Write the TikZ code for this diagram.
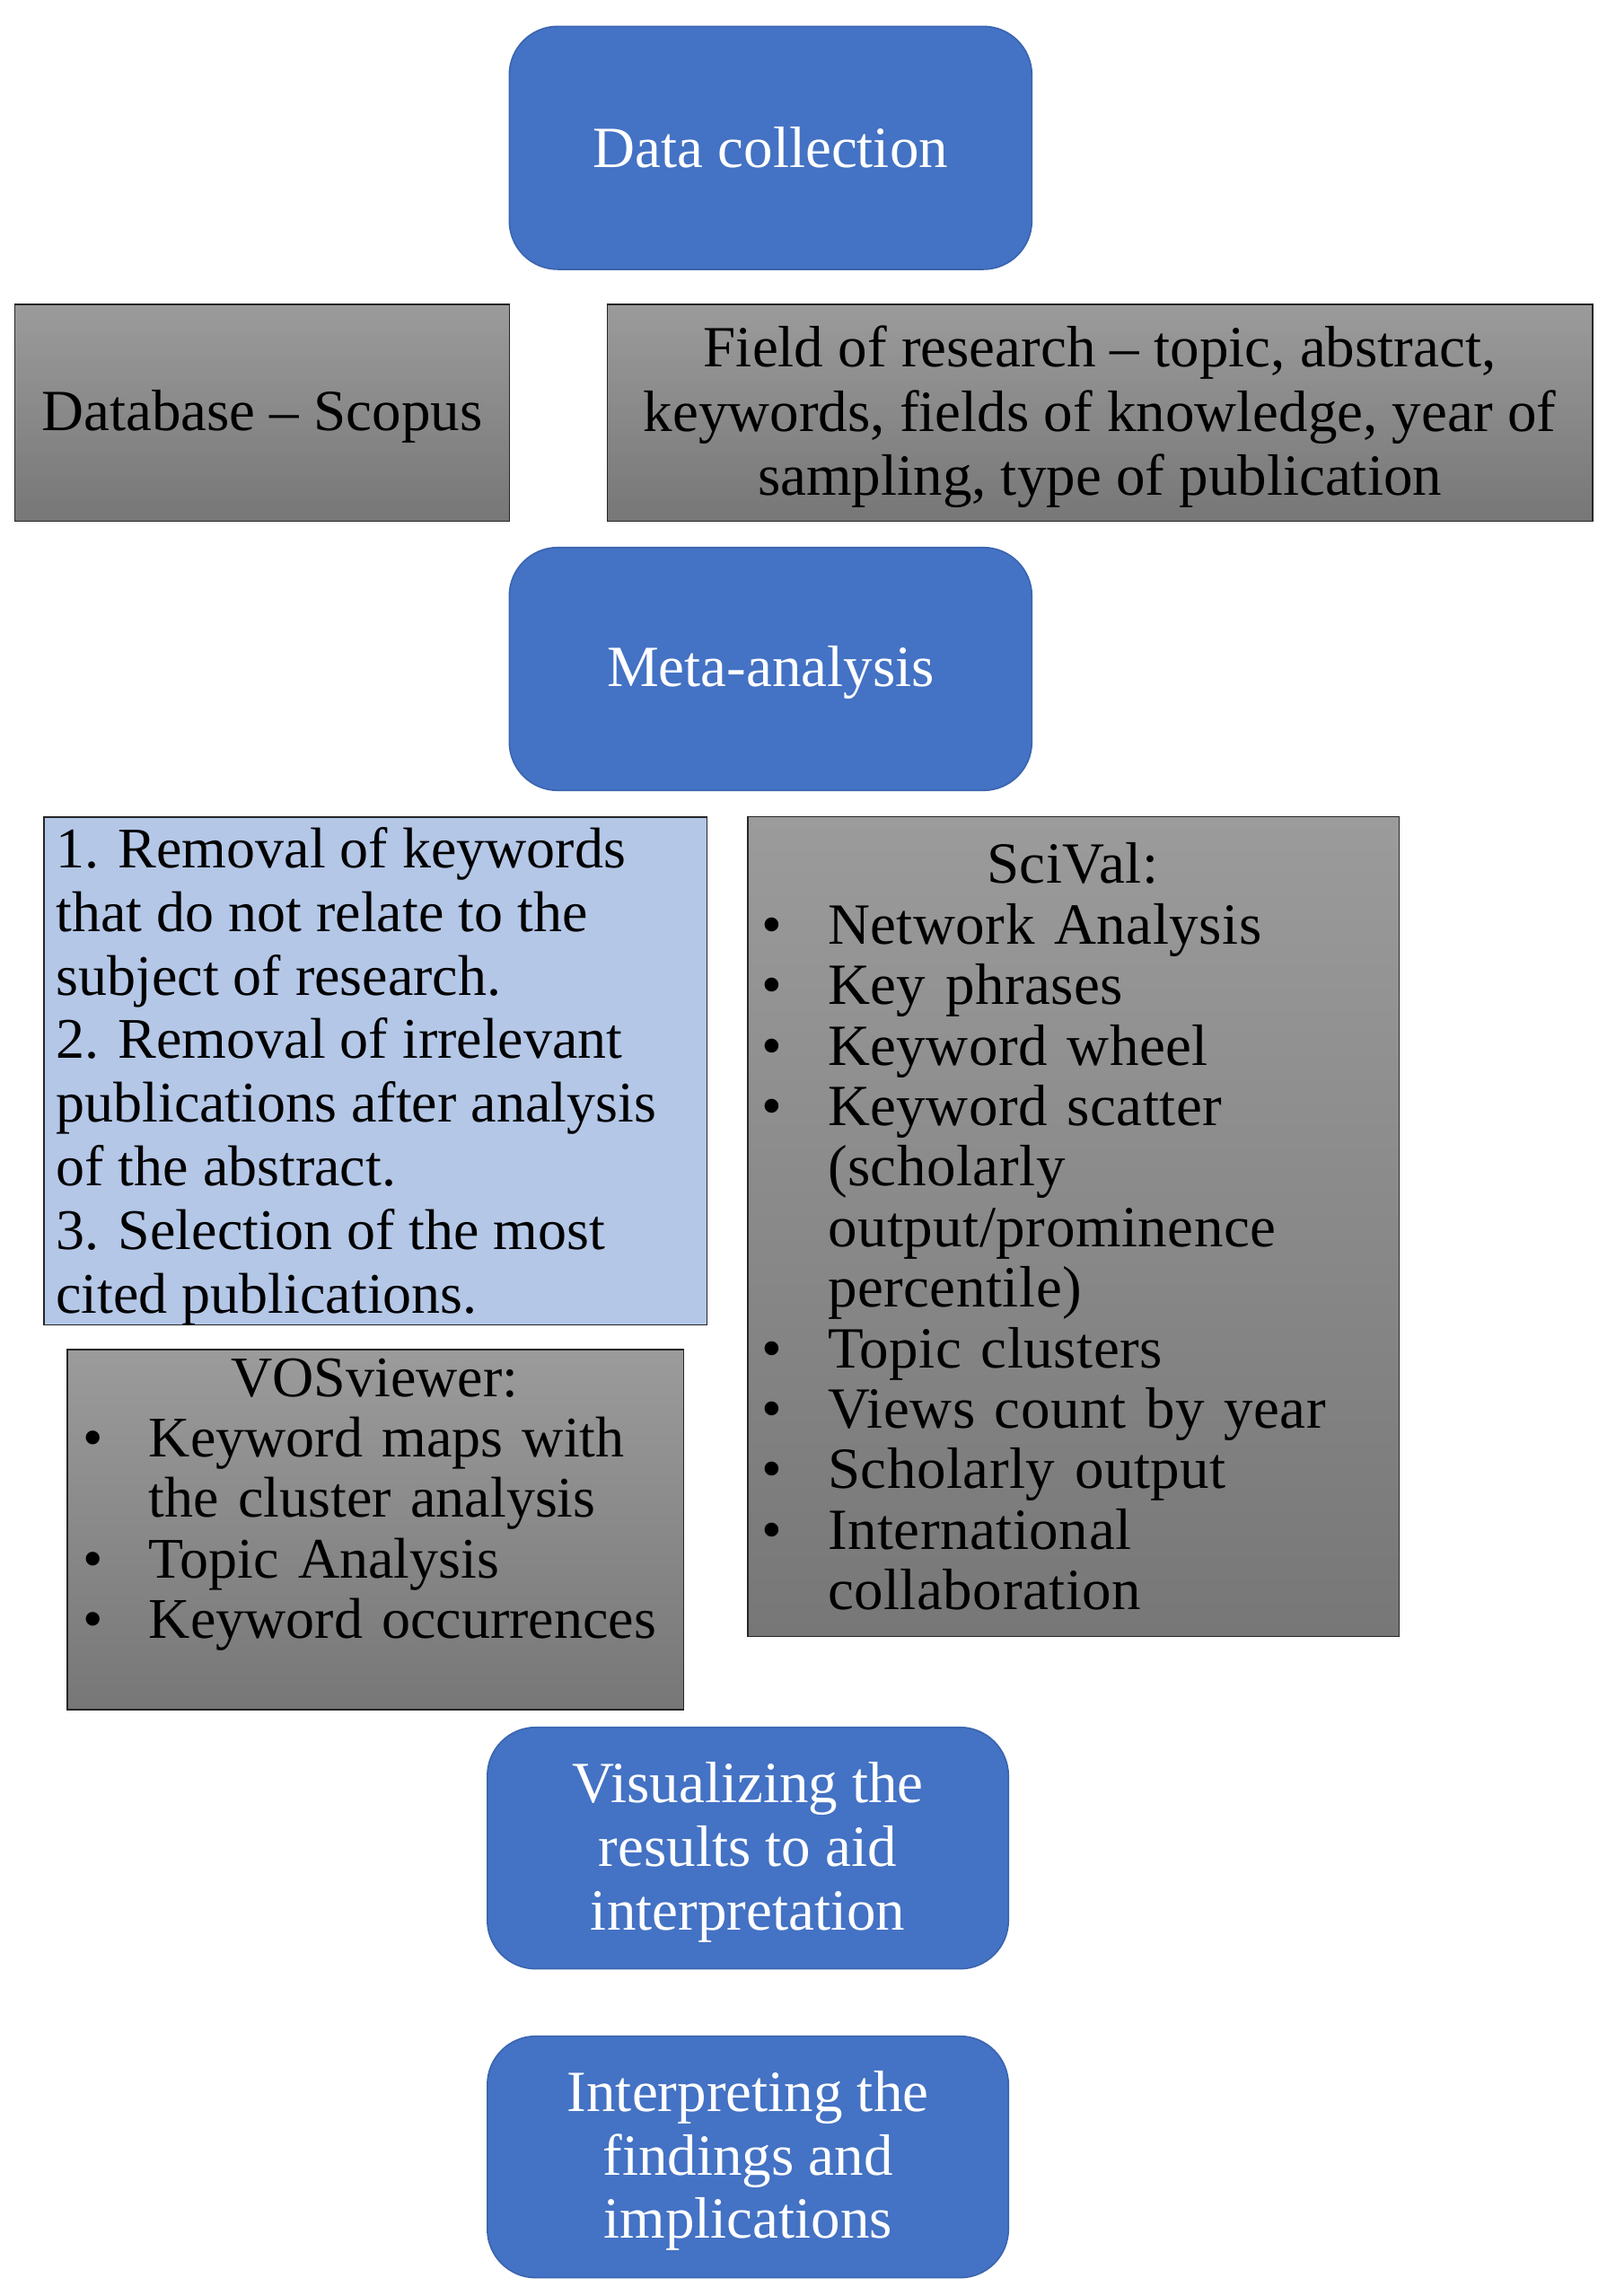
\documentclass[tikz,border=0pt]{standalone}
\usepackage{fontspec}
\setmainfont{Liberation Serif}
\newfontfamily\scifont[LetterSpace=0.8]{Liberation Serif}
\definecolor{boxblue}{HTML}{4472C4}
\definecolor{blueedge}{HTML}{3A64AE}
\definecolor{lightblue}{HTML}{B4C7E7}
\definecolor{graytop}{HTML}{9B9B9B}
\definecolor{graybot}{HTML}{777777}
\newcommand\mainfs{\fontsize{32.5pt}{35.4pt}\selectfont}
\newcommand\fieldfs{\fontsize{32.5pt}{35.9pt}\selectfont}
\newcommand\remfs{\fontsize{32pt}{35.4pt}\selectfont}
\newcommand\vosfs{\fontsize{32pt}{33.7pt}\selectfont}
\newcommand\scifs{\scifont\fontsize{32.5pt}{33.7pt}\selectfont}
\newcommand\bul{\makebox[36.7pt][l]{\textbullet}}
\newcommand\ind{\hspace*{36.7pt}}
\begin{document}
\begin{tikzpicture}[x=0.8151pt,y=-0.8151pt,
  bluebox/.style={draw=blueedge, line width=0.8pt, fill=boxblue, rounded corners=27pt,
    inner sep=0pt},
  graybox/.style={draw=black!85, line width=0.8pt, top color=graytop, bottom color=graybot,
    inner sep=0pt},
  lightbox/.style={draw=black!85, line width=0.8pt, fill=lightblue, inner sep=0pt},
  btxt/.style={inner sep=0pt, align=center, text=white, font=\mainfs, yshift=-2.2pt},
  ctxt/.style={inner sep=0pt, align=center, font=\mainfs, yshift=-2.2pt},
  txt/.style={inner sep=0pt, align=left}]
\useasboundingbox[fill=white] (0,0) rectangle (1098,1568.5);
% blue process boxes
\node[bluebox, minimum width=291pt, minimum height=135.3pt] (dc) at (526.5,101) {};
\node[btxt, yshift=2.2pt] (dctxt) at (dc.center) {Data collection};
\node[bluebox, minimum width=291pt, minimum height=135.3pt] (meta) at (526.5,457) {};
\node[btxt] (metatxt) at (meta.center) {Meta-analysis};
\node[bluebox, minimum width=290.2pt, minimum height=134.5pt] (vis) at (511,1262.5) {};
\node[btxt] (vistxt) at (vis.center) {Visualizing the\\results to aid\\interpretation};
\node[bluebox, minimum width=290.2pt, minimum height=134.5pt] (interp) at (511,1473.5) {};
\node[btxt] (interptxt) at (interp.center) {Interpreting the\\findings and\\implications};
% gray boxes
\node[graybox, minimum width=275.5pt, minimum height=120.6pt] (db) at (179,282) {};
\node[ctxt] (dbtxt) at (db.center) {Database -- Scopus};
\node[graybox, minimum width=548.6pt, minimum height=120.6pt] (field) at (751.5,282) {};
\node[ctxt, font=\fieldfs] (fieldtxt) at (field.center)
  {Field of research -- topic, abstract,\\keywords, fields of knowledge, year of\\sampling, type of publication};
% removal box
\node[lightbox, minimum width=369.2pt, minimum height=282.8pt] (rem) at (256.5,731.5) {};
\node[txt, font=\remfs, anchor=west] (remtxt) at ([xshift=7pt,yshift=-3pt]rem.west)
  {1. Removal of keywords\\that do not relate to the\\subject of research.\\2. Removal of irrelevant\\publications after analysis\\of the abstract.\\3. Selection of the most\\cited publications.};
% SciVal box
\node[graybox, minimum width=362.7pt, minimum height=456.5pt] (sci) at (733.5,838) {};
\node[txt, font=\scifs, anchor=west, text width=346pt] (scitxt) at ([xshift=8pt]sci.west)
  {\makebox[346pt]{SciVal:}\\
   \bul Network Analysis\\
   \bul Key phrases\\
   \bul Keyword wheel\\
   \bul Keyword scatter\\
   \ind(scholarly\\
   \ind output/prominence\\
   \ind percentile)\\
   \bul Topic clusters\\
   \bul Views count by year\\
   \bul Scholarly output\\
   \bul International\\
   \ind collaboration};
% VOSviewer box
\node[graybox, minimum width=343.2pt, minimum height=200.5pt] (vos) at (256.5,1045) {};
\node[txt, font=\vosfs, anchor=north west, text width=325pt] (vostxt) at ([xshift=9pt,yshift=-5pt]vos.north west)
  {\makebox[325pt]{VOSviewer:}\\
   \bul Keyword maps with\\
   \ind the cluster analysis\\
   \bul Topic Analysis\\
   \bul Keyword occurrences};
\end{tikzpicture}
\end{document}
